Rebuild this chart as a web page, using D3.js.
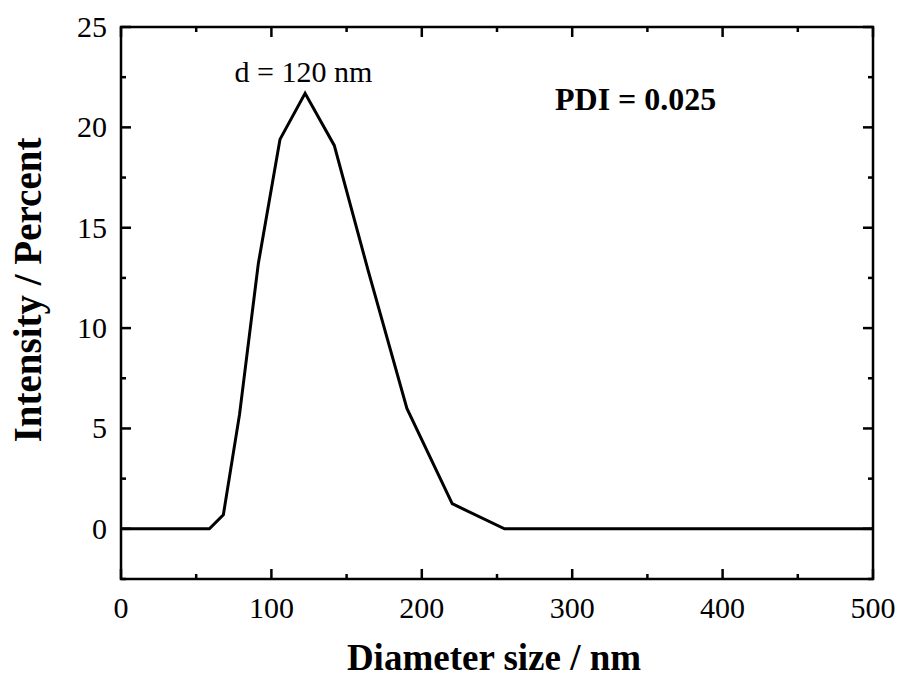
<!DOCTYPE html>
<html>
<head>
<meta charset="utf-8">
<script src="https://cdn.jsdelivr.net/npm/d3@7"></script>
<style>
body{margin:0;background:#fff}
text{font-family:"Liberation Serif","Times New Roman",serif;fill:#000}
</style>
</head>
<body>
<svg id="dls-svg" width="901" height="679"></svg>
<script>
// size bins (nm) and intensity (%)
var sizes=[0.4,32.67,37.84,43.82,50.75,58.77,68.06,78.82,91.28,105.7,122.4,141.8,164.2,190.1,220.2,255.0,295.3,342.0,396.1,458.7,531.2]
var intensity=[0,0,0,0,0,0,0.7,5.7,13.2,19.4,21.7,19.1,12.9,6.0,1.25,0,0,0,0,0,0]
var xTicks=[0,100,200,300,400,500]
var yTicks=[0,5,10,15,20,25]

var svg=d3.select('#dls-svg')
var margin={top:27,left:121,right:28,bottom:100}
var W=901,H=679
var x=d3.scaleLinear().domain([0,500]).range([margin.left,W-margin.right]),
    y=d3.scaleLinear().domain([-2.5,25]).range([H-margin.bottom,margin.top])

svg.append('defs').append('clipPath').attr('id','clip')
    .append('rect')
    .attr('x',x(0)).attr('y',y(25))
    .attr('width',x(500)-x(0)).attr('height',y(-2.5)-y(25))

// ticks (inside), major + minor, on all four sides
var g=svg.append('g').attr('id','axes')
var xMinor=d3.range(50,500,100), yMinor=d3.range(-2.5,25,5)
function tick(x1,y1,x2,y2){
    g.append('line').attr('x1',x1).attr('y1',y1).attr('x2',x2).attr('y2',y2)
        .attr('stroke','#000').attr('stroke-width',2.5)
}
xTicks.forEach(v=>{ tick(x(v),y(-2.5),x(v),y(-2.5)-10); tick(x(v),y(25),x(v),y(25)+10) })
xMinor.forEach(v=>{ tick(x(v),y(-2.5),x(v),y(-2.5)-5); tick(x(v),y(25),x(v),y(25)+5) })
yTicks.forEach(v=>{ tick(x(0),y(v),x(0)+10,y(v)); tick(x(500),y(v),x(500)-10,y(v)) })
yMinor.forEach(v=>{ tick(x(0),y(v),x(0)+5,y(v)); tick(x(500),y(v),x(500)-5,y(v)) })

g.append('rect')
    .attr('x',x(0)).attr('y',y(25))
    .attr('width',x(500)-x(0)).attr('height',y(-2.5)-y(25))
    .attr('fill','none').attr('stroke','#000').attr('stroke-width',2.5)

svg.append('g').selectAll('text')
    .data(xTicks)
    .join('text')
    .attr('x',d=>x(d))
    .attr('y',y(-2.5)+39)
    .attr('text-anchor','middle')
    .attr('font-size',30)
    .text(d=>d)

svg.append('g').selectAll('text')
    .data(yTicks)
    .join('text')
    .attr('x',x(0)-14)
    .attr('y',d=>y(d)+10)
    .attr('text-anchor','end')
    .attr('font-size',30)
    .text(d=>d)

// curve
var line=d3.line().x((d,i)=>x(sizes[i])).y(d=>y(d))
svg.append('path')
    .attr('clip-path','url(#clip)')
    .attr('d',line(intensity))
    .attr('fill','none')
    .attr('stroke','#000')
    .attr('stroke-width',3)
    .attr('stroke-linejoin','miter')

// annotations
svg.append('text')
    .attr('x',303.5).attr('y',82)
    .attr('text-anchor','middle')
    .attr('font-size',30)
    .text('d = 120 nm')
svg.append('text')
    .attr('x',555).attr('y',110)
    .attr('font-size',32).attr('font-weight','bold')
    .text('PDI = 0.025')

// axis titles
svg.append('text')
    .attr('x',494).attr('y',670)
    .attr('text-anchor','middle')
    .attr('font-size',37).attr('font-weight','bold')
    .text('Diameter size / nm')
svg.append('text')
    .attr('transform','translate(41,290) rotate(-90)')
    .attr('text-anchor','middle')
    .attr('font-size',39).attr('font-weight','bold')
    .text('Intensity / Percent')
</script>
</body>
</html>
